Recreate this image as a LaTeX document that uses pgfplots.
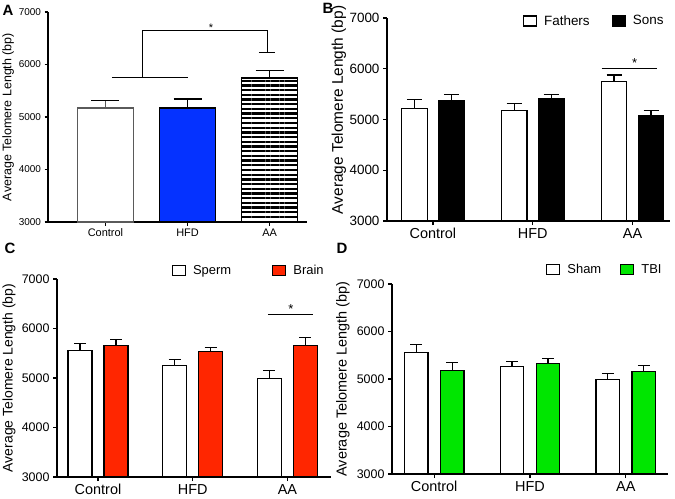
\documentclass[border=0pt]{standalone}
\usepackage{fontspec}
\setmainfont{Liberation Sans}
\usepackage{pgfplots}
\pgfplotsset{compat=1.18}
\usetikzlibrary{patterns.meta}

\definecolor{hfdblue}{RGB}{5,50,255}
\definecolor{brainred}{RGB}{255,38,0}
\definecolor{tbigreen}{RGB}{0,230,0}
\definecolor{ctrlgray}{RGB}{90,90,90}

\newcommand{\fs}[1]{\fontsize{#1}{#1}\selectfont}

\pgfplotsset{
  panel/.style={
    scale only axis,
    anchor=south west,
    axis lines=left,
    axis line style={-, line width=1.3bp},
    ymin=3000, ymax=7000,
    ytick={3000,4000,5000,6000,7000},
    xtick={0,1,2},
    xticklabels={Control,HFD,AA},
    tick align=outside,
    major tick length=4bp,
    tick style={line width=1.2bp, black},
    /pgf/number format/assume math mode=true,
    /pgf/number format/1000 sep={},
    ybar,
    ylabel={Average Telomere Length (bp)},
    ylabel style={anchor=center, rotate=0},
    clip=false,
    legend image code/.code={\draw[##1, line width=1.2bp] (0bp,-5bp) rectangle (13bp,5bp);},
  },
  ebar/.style={error bars/y dir=plus, error bars/y explicit,
    error bars/error bar style={line width=1.2bp, solid},
    error bars/error mark options={rotate=90, mark size=#1, line width=1.2bp}},
}

\begin{document}
\begin{tikzpicture}
\path[use as bounding box] (0,0) rectangle (675bp,-499bp);

% panel letters
\node[font=\bfseries\fs{15}] at (8bp,-10bp) {A};
\node[font=\bfseries\fs{15}] at (328bp,-8bp) {B};
\node[font=\bfseries\fs{15}] at (10bp,-248bp) {C};
\node[font=\bfseries\fs{15}] at (342bp,-248bp) {D};

% ---------------- A
\begin{axis}[panel,
  at={(48bp,-222bp)}, width=259bp, height=210bp,
  xmin=-0.70, xmax=2.456,
  bar width=55.5bp,
  major tick length=3.5bp,
  yticklabel style={font=\fs{10}},
  xticklabel style={font=\fs{11}},
  ylabel style={font=\fs{12.5}, at={(axis description cs:-0.154,0.5)}},
]
\addplot[fill=white, draw=ctrlgray, line width=1.2bp, bar shift=0bp, ebar=14bp]
  coordinates {(0,5171) +- (0,140)};
\addplot[fill=hfdblue, draw=black, line width=1.2bp, bar shift=0bp, ebar=14bp]
  coordinates {(1,5171) +- (0,172)};
\addplot[draw=black, line width=1.2bp, bar shift=0bp, ebar=14bp,
  pattern={Lines[angle=0,distance=4.7bp,line width=2.3bp]}, pattern color=black]
  coordinates {(2,5743) +- (0,139)};
\draw[line width=1bp] (axis cs:0.079,5743) -- (axis cs:1.006,5743);
\draw[line width=1bp] (axis cs:0.457,5743) -- (axis cs:0.457,6657) -- (axis cs:1.98,6657) -- (axis cs:1.98,6232);
\draw[line width=1bp] (axis cs:1.87,6232) -- (axis cs:2.06,6232);
\node[font=\fs{11}] at (axis cs:1.287,6700) {*};
\end{axis}

% ---------------- B
\begin{axis}[panel,
  at={(387bp,-221bp)}, width=283bp, height=203bp,
  xmin=-0.46, xmax=2.375,
  bar width=25.5bp,
  yticklabel style={font=\fs{13.5}},
  xticklabel style={font=\fs{14.5}},
  ylabel style={font=\fs{15.5}, at={(axis description cs:-0.170,0.547)}},
  legend columns=2,
  legend style={draw=none, fill=none, inner sep=0pt, font=\fs{13.5},
    at={(axis description cs:0.4795,0.985)}, anchor=west,
    nodes={inner sep=0pt},
    /tikz/every odd column/.append style={column sep=7bp},
    /tikz/every even column/.append style={column sep=22bp}},
]
\addplot[fill=white, draw=black, line width=1.2bp, bar shift=-18.5bp, ebar=7.5bp]
  coordinates {(0,5217) +- (0,171) (1,5171) +- (0,145) (2,5743) +- (0,132)};
\addlegendentry{Fathers}
\addplot[fill=black, draw=black, line width=1.2bp, bar shift=18.5bp, ebar=7.5bp]
  coordinates {(0,5375) +- (0,125) (1,5408) +- (0,92) (2,5079) +- (0,105)};
\addlegendentry{Sons}
\draw[line width=0.8bp] (axis cs:1.69,6000) -- (axis cs:2.24,6000);
\node[font=\fs{13}] at (axis cs:2.02,6110) {*};
\end{axis}

% ---------------- C
\begin{axis}[panel,
  at={(57bp,-477bp)}, width=274bp, height=198bp,
  xmin=-0.433, xmax=2.46,
  bar width=24bp,
  yticklabel style={font=\fs{12.5}},
  xticklabel style={font=\fs{14.5}},
  ylabel style={font=\fs{14}, at={(axis description cs:-0.175,0.5)}},
  legend columns=2,
  legend style={draw=none, fill=none, inner sep=0pt, font=\fs{13},
    at={(axis description cs:0.4186,1.044)}, anchor=west,
    nodes={inner sep=0pt},
    /tikz/every odd column/.append style={column sep=7bp},
    /tikz/every even column/.append style={column sep=41bp}},
]
\addplot[fill=white, draw=black, line width=1.2bp, bar shift=-18bp, ebar=6bp]
  coordinates {(0,5563) +- (0,135) (1,5253) +- (0,115) (2,4983) +- (0,162)};
\addlegendentry{Sperm}
\addplot[fill=brainred, draw=black, line width=1.2bp, bar shift=18bp, ebar=6bp]
  coordinates {(0,5658) +- (0,128) (1,5530) +- (0,94) (2,5658) +- (0,155)};
\addlegendentry{Brain}
\draw[line width=0.8bp] (axis cs:1.794,6278) -- (axis cs:2.269,6278);
\node[font=\fs{13}] at (axis cs:2.037,6400) {*};
\end{axis}

% ---------------- D
\begin{axis}[panel,
  at={(392bp,-474bp)}, width=276bp, height=190bp,
  xmin=-0.44, xmax=2.44,
  bar width=23.5bp,
  yticklabel style={font=\fs{12.5}},
  xticklabel style={font=\fs{14.5}},
  ylabel style={font=\fs{14.5}, at={(axis description cs:-0.1775,0.5)}},
  legend columns=2,
  legend style={draw=none, fill=none, inner sep=0pt, font=\fs{13},
    at={(axis description cs:0.558,1.076)}, anchor=west,
    nodes={inner sep=0pt},
    /tikz/every odd column/.append style={column sep=7bp},
    /tikz/every even column/.append style={column sep=19bp}},
]
\addplot[fill=white, draw=black, line width=1.2bp, bar shift=-18bp, ebar=6bp]
  coordinates {(0,5564) +- (0,161) (1,5263) +- (0,112) (2,4989) +- (0,134)};
\addlegendentry{Sham}
\addplot[fill=tbigreen, draw=black, line width=1.2bp, bar shift=18bp, ebar=6bp]
  coordinates {(0,5179) +- (0,161) (1,5319) +- (0,105) (2,5158) +- (0,133)};
\addlegendentry{TBI}
\end{axis}
\end{tikzpicture}
\end{document}
